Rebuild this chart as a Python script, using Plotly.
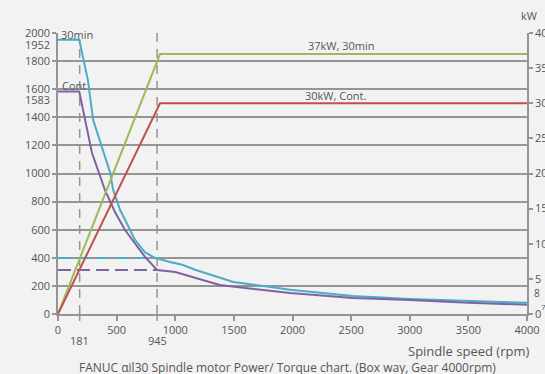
import plotly.graph_objects as go

# ---- data ----
rpm_30min = [0, 181, 255, 300, 445, 470, 530, 655, 740, 825, 955, 1060, 1170, 1495, 1980, 2515, 3000, 3500, 4000]
torque_30min = [1952, 1952, 1665, 1380, 1005, 885, 740, 530, 440, 400, 370, 350, 315, 228, 172, 128, 107, 93, 80]

rpm_cont = [0, 181, 290, 400, 486, 572, 742, 845, 1000, 1170, 1380, 1980, 2515, 3000, 3500, 4000]
torque_cont = [1583, 1583, 1146, 883, 726, 598, 406, 313, 299, 256, 206, 149, 114, 100, 80, 66]

rpm_power = [0, 870, 4000]
power_30min = [0, 37, 37]
power_cont = [0, 30, 30]

base_speed_pos = [185, 845]          # dashed marker positions on the drawing
base_speed_labels = ["181", "945"]
torque_at_base = [399, 313]          # 30min / cont torque at base speed

x_ticks = [0, 500, 1000, 1500, 2000, 2500, 3000, 3500, 4000]
y_ticks = [0, 200, 400, 600, 800, 1000, 1200, 1400, 1600, 1800, 2000]
y_extra = [1952, 1583]
y2_ticks = [0, 5, 10, 15, 20, 25, 30, 35, 40]

BLUE = "#4bacc6"
PURPLE = "#7f62a1"
GREEN = "#9bbb59"
RED = "#c0504d"
GRAY = "#959595"
TXT = "#555555"
BG = "#f2f2f2"
FONT = "Open Sans"

fig = go.Figure()

# vertical gray dashed lines
fig.add_trace(go.Scatter(x=[base_speed_pos[0]] * 2, y=[0, 1952], mode="lines",
                         line=dict(color=GRAY, width=1.5, dash="9px,7px"), showlegend=False, hoverinfo="skip"))
fig.add_trace(go.Scatter(x=[base_speed_pos[1]] * 2, y=[0, 2000], mode="lines",
                         line=dict(color=GRAY, width=1.5, dash="9px,7px"), showlegend=False, hoverinfo="skip"))

# horizontal coloured dashed lines
fig.add_trace(go.Scatter(x=[0, base_speed_pos[1]], y=[torque_at_base[0]] * 2, mode="lines",
                         line=dict(color=BLUE, width=2, dash="13px,6px"), showlegend=False, hoverinfo="skip"))
fig.add_trace(go.Scatter(x=[0, base_speed_pos[1]], y=[torque_at_base[1]] * 2, mode="lines",
                         line=dict(color=PURPLE, width=2, dash="13px,6px"), showlegend=False, hoverinfo="skip"))

# power curves (right axis)
fig.add_trace(go.Scatter(x=rpm_power, y=power_30min, mode="lines", yaxis="y2",
                         line=dict(color=GREEN, width=2), showlegend=False))
fig.add_trace(go.Scatter(x=rpm_power, y=power_cont, mode="lines", yaxis="y2",
                         line=dict(color=RED, width=2), showlegend=False))

# torque curves
fig.add_trace(go.Scatter(x=rpm_30min, y=torque_30min, mode="lines",
                         line=dict(color=BLUE, width=2), showlegend=False))
fig.add_trace(go.Scatter(x=rpm_cont, y=torque_cont, mode="lines",
                         line=dict(color=PURPLE, width=2), showlegend=False))

ann = []
# extra left labels
ann.append(dict(x=0, y=y_extra[0], xref="x", yref="y", text=str(y_extra[0]), showarrow=False,
                xanchor="right", xshift=-6, yshift=-5, font=dict(size=11, color=TXT, family=FONT)))
ann.append(dict(x=0, y=y_extra[1], xref="x", yref="y", text=str(y_extra[1]), showarrow=False,
                xanchor="right", xshift=-6, yshift=-8, font=dict(size=11, color=TXT, family=FONT)))
# curve labels
ann.append(dict(x=0, y=2000, xref="x", yref="y", text="30min", showarrow=False, xanchor="left",
                xshift=1, yshift=-1, font=dict(size=11, color=TXT, family=FONT)))
ann.append(dict(x=0, y=1600, xref="x", yref="y", text="Cont", showarrow=False, xanchor="left",
                xshift=2, yshift=4, font=dict(size=11, color=TXT, family=FONT)))
ann.append(dict(x=2414, y=37, xref="x", yref="y2", text="37kW, 30min", showarrow=False,
                yshift=9, font=dict(size=11, color=TXT, family=FONT)))
ann.append(dict(x=2370, y=30, xref="x", yref="y2", text="30kW, Cont.", showarrow=False,
                yshift=8, font=dict(size=11, color=TXT, family=FONT)))
# base speed labels
for p, t in zip(base_speed_pos, base_speed_labels):
    ann.append(dict(x=p, y=0, xref="x", yref="paper", text=t, showarrow=False, yanchor="top",
                    yshift=-17, font=dict(size=11, color=TXT, family=FONT)))
# unit labels
ann.append(dict(x=-155, y=1, xref="x", yref="paper", text="Nm", showarrow=False, yanchor="bottom",
                yshift=8, font=dict(size=11, color=TXT, family=FONT)))
ann.append(dict(x=1, y=1, xref="paper", yref="paper", text="kW", showarrow=False, yanchor="bottom",
                xanchor="center", yshift=8, xshift=2, font=dict(size=11, color=TXT, family=FONT)))
# stray right labels
ann.append(dict(x=1, y=3.0, xref="paper", yref="y2", text="8", showarrow=False, xanchor="left",
                xshift=5, font=dict(size=10, color=TXT, family=FONT)))
ann.append(dict(x=1, y=1.0, xref="paper", yref="y2", text="7", showarrow=False, xanchor="left",
                xshift=12, font=dict(size=8, color=TXT, family=FONT)))
# axis title and caption
ann.append(dict(x=1, y=0, xref="paper", yref="paper", text="Spindle speed (rpm)", showarrow=False,
                xanchor="right", yanchor="top", xshift=4, yshift=-26, font=dict(size=13, color=TXT, family=FONT)))
ann.append(dict(x=0.49, y=0, xref="paper", yref="paper", text="FANUC αil30 Spindle motor Power/ Torque chart. (Box way, Gear 4000rpm)",
                showarrow=False, xanchor="center", yanchor="top", yshift=-43,
                font=dict(size=12, color=TXT, family=FONT)))

fig.update_layout(
    width=545, height=374,
    margin=dict(l=58, r=18, t=33, b=60),
    paper_bgcolor=BG, plot_bgcolor=BG,
    showlegend=False,
    font=dict(family=FONT, size=11, color=TXT),
    annotations=ann,
    xaxis=dict(range=[0, 4000], tickvals=x_ticks, ticktext=[str(v) for v in x_ticks],
               showgrid=False, zeroline=False, showline=True, linecolor=GRAY, linewidth=1.5,
               ticks="outside", ticklen=5, tickcolor=GRAY, tickwidth=1.5,
               tickfont=dict(size=11, color=TXT, family=FONT), automargin=False),
    yaxis=dict(range=[0, 2000], tickvals=y_ticks, ticktext=[str(v) for v in y_ticks],
               showgrid=True, gridcolor=GRAY, gridwidth=1.5, zeroline=False,
               showline=True, linecolor=GRAY, linewidth=1.5,
               ticks="outside", ticklen=4, tickcolor=GRAY, tickwidth=1.5,
               tickfont=dict(size=11, color=TXT, family=FONT), automargin=False),
    yaxis2=dict(range=[0, 40], overlaying="y", side="right", tickvals=y2_ticks,
                ticktext=[str(v) for v in y2_ticks], showgrid=False, zeroline=False,
                showline=True, linecolor=GRAY, linewidth=1.5,
                ticks="outside", ticklen=4, tickcolor=GRAY, tickwidth=1.5,
                tickfont=dict(size=11, color=TXT, family=FONT), automargin=False),
)

# hide the 2000 gridline behind the "30min" label (between grid and traces)
fig.add_shape(type="rect", x0=0, x1=270, xref="x", y0=1975, y1=2025, yref="y",
              fillcolor=BG, line=dict(width=0), layer="between")

# extra bottom tick marks at the base-speed lines
for p in base_speed_pos:
    fig.add_shape(type="line", x0=p, x1=p, xref="x", y0=0, y1=-0.025, yref="paper",
                  line=dict(color=GRAY, width=1.5))

fig.write_html("out.html")
